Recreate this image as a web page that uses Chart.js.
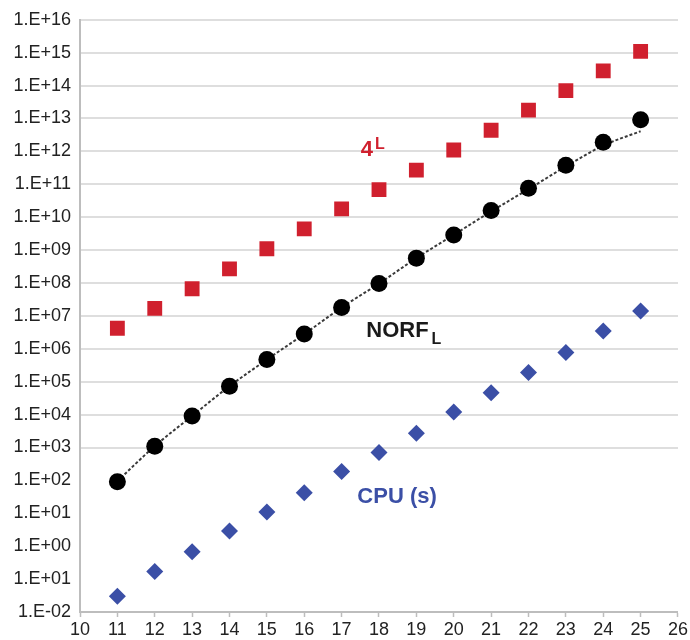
<!DOCTYPE html>
<html>
<head>
<meta charset="utf-8">
<script src="https://cdn.jsdelivr.net/npm/chart.js@4.4.1/dist/chart.umd.min.js"></script>
<style>
  html, body { margin: 0; padding: 0; background: #fff; }
  #wrap { width: 690px; height: 640px; position: relative; }
</style>
</head>
<body>
<div id="wrap"><canvas id="chart"></canvas></div>
<script>
const levels = [11, 12, 13, 14, 15, 16, 17, 18, 19, 20, 21, 22, 23, 24, 25];
const fourL = [4.2e6, 1.7e7, 6.7e7, 2.7e8, 1.1e9, 4.4e9, 1.8e10, 6.9e10, 2.7e11, 1.1e12, 4.4e12, 1.8e13, 7.0e13, 2.8e14, 1.1e15];
const norf = [91, 1.1e3, 9.1e3, 7.3e4, 4.7e5, 2.8e6, 1.8e7, 9.6e7, 5.7e8, 2.9e9, 1.6e10, 7.6e10, 3.8e11, 1.9e12, 9.1e12];
const norfTrend = [95, 1.1e3, 9.1e3, 7.3e4, 4.7e5, 2.8e6, 1.8e7, 9.6e7, 5.7e8, 2.9e9, 1.5e10, 7.1e10, 3.5e11, 1.5e12, 4.1e12];
const cpu = [0.030, 0.17, 0.68, 2.9, 11, 42, 186, 710, 2.7e3, 1.2e4, 4.6e4, 1.9e5, 7.7e5, 3.5e6, 1.4e7];

const yExps = [-2, -1, 0, 1, 2, 3, 4, 5, 6, 7, 8, 9, 10, 11, 12, 13, 14, 15, 16];
const yLabels = ["1.E-02", "1.E+01", "1.E+00", "1.E+01", "1.E+02", "1.E+03", "1.E+04", "1.E+05", "1.E+06",
  "1.E+07", "1.E+08", "1.E+09", "1.E+10", "1.E+11", "1.E+12", "1.E+13", "1.E+14", "1.E+15", "1.E+16"];
const gridFrom = 1e3;

// text labels on the plot: anchor in data units, text baseline
const notes = [
  { text: "4", small: "L", kind: "sup", x: 17.51, y: 7.4e11, color: "#d0202e" },
  { text: "NORF", small: "L", kind: "sub", x: 17.66, y: 2.3e6, color: "#1a1a1a" },
  { text: "CPU (s)", small: "", kind: "", x: 17.42, y: 21, color: "#3b4fa6" }
];

const pts = vals => levels.map((l, i) => ({ x: l, y: vals[i] }));

const notePlugin = {
  id: "notes",
  afterDatasetsDraw(chart) {
    const { ctx, scales } = chart;
    ctx.save();
    ctx.textBaseline = "alphabetic";
    notes.forEach(n => {
      const px = scales.x.getPixelForValue(n.x);
      const py = scales.y.getPixelForValue(n.y);
      ctx.fillStyle = n.color;
      ctx.font = "bold 22px 'Liberation Sans', Arial, sans-serif";
      ctx.fillText(n.text, px, py);
      if (n.small) {
        const w = ctx.measureText(n.text).width;
        ctx.font = "bold 16px 'Liberation Sans', Arial, sans-serif";
        ctx.fillText(n.small, px + w + (n.kind === "sub" ? 3 : 2), py + (n.kind === "sub" ? 7 : -7));
      }
    });
    ctx.restore();
  }
};

new Chart(document.getElementById("chart"), {
  type: "scatter",
  data: {
    datasets: [
      {
        label: "4^L", data: pts(fourL), pointStyle: "rect", pointRadius: 10.5,
        backgroundColor: "#d0202e", borderColor: "#d0202e", borderWidth: 0, order: 1
      },
      {
        label: "NORF_L", data: pts(norf), pointStyle: "circle", pointRadius: 8.5,
        backgroundColor: "#000", borderColor: "#000", borderWidth: 0, order: 2
      },
      {
        label: "CPU (s)", data: pts(cpu), pointStyle: "rectRot", pointRadius: 8.5,
        backgroundColor: "#3b4fa6", borderColor: "#3b4fa6", borderWidth: 0, order: 3
      },
      {
        label: "trend", data: pts(norfTrend), showLine: true, pointRadius: 0,
        borderColor: "#3a3a3a", borderWidth: 2, borderDash: [3, 2], tension: 0.4,
        cubicInterpolationMode: "monotone", order: 10
      }
    ]
  },
  options: {
    responsive: true,
    maintainAspectRatio: false,
    animation: false,
    events: [],
    layout: { padding: { top: 16, right: 10, left: 0, bottom: 0 } },
    plugins: { legend: { display: false }, tooltip: { enabled: false } },
    scales: {
      x: {
        type: "linear", min: 10, max: 26,
        ticks: { stepSize: 1, color: "#222", padding: 2, font: { family: "'Liberation Sans', Arial, sans-serif", size: 18 } },
        grid: { drawOnChartArea: false, drawTicks: true, tickLength: 5, tickColor: "#bdbdbd", tickWidth: 1.5 },
        border: { color: "#bdbdbd", width: 2 },
        afterFit(scale) { scale.height = 28; }
      },
      y: {
        type: "logarithmic", min: 1e-2, max: 1e16,
        afterBuildTicks(scale) { scale.ticks = yExps.map(e => ({ value: Math.pow(10, e) })); },
        ticks: {
          color: "#222", padding: 9, autoSkip: false,
          font: { family: "'Liberation Sans', Arial, sans-serif", size: 18 },
          callback: (v, i) => yLabels[i]
        },
        grid: {
          drawTicks: false,
          lineWidth: 2,
          color: c => (c.tick && c.tick.value >= gridFrom ? "#dedede" : "rgba(0,0,0,0)")
        },
        border: { color: "#bdbdbd", width: 2 },
        afterFit(scale) { scale.width = 80; }
      }
    }
  },
  plugins: [notePlugin]
});
</script>
</body>
</html>
